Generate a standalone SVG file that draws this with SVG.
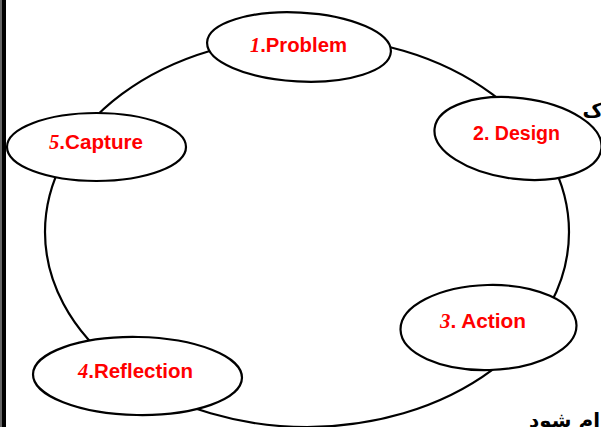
<svg xmlns="http://www.w3.org/2000/svg" width="601" height="427" viewBox="0 0 601 427">
<style>
.node{fill:#fff;stroke:#000;stroke-width:2.2}
.lbl{font-family:"Liberation Sans",Arial,sans-serif;font-weight:bold;font-size:20px;fill:#ff0000}
.num{font-family:"Liberation Serif","Times New Roman",serif;font-style:italic;font-weight:bold}
.fa{font-family:"DejaVu Sans",sans-serif;font-size:20px;font-weight:bold;fill:#000}
</style>
<rect x="0" y="0" width="601" height="427" fill="#fff"/>
<rect x="0" y="0" width="1.7" height="427" fill="#666"/>
<rect x="1.7" y="0" width="4.3" height="427" fill="#000"/>
<text class="fa" x="603" y="117" text-anchor="end">ک</text>
<text class="fa" x="600" y="427" text-anchor="end">ام شود</text>
<g id="connectors">
<ellipse cx="307" cy="232" rx="262" ry="195" fill="none" stroke="#000" stroke-width="2.2"/>
</g>
<g id="n1">
<ellipse class="node" cx="299" cy="47" rx="92" ry="34.5" transform="rotate(3 299 47)"/>
<text class="lbl" x="250" y="52" textLength="97" lengthAdjust="spacingAndGlyphs"><tspan class="num">1</tspan>.Problem</text>
</g>
<g id="n2">
<ellipse class="node" cx="518" cy="138.5" rx="84" ry="40.5" transform="rotate(7 518 138.5)"/>
<text class="lbl" x="473" y="140" textLength="87" lengthAdjust="spacingAndGlyphs">2. Design</text>
</g>
<g id="n3">
<ellipse class="node" cx="488.5" cy="327.5" rx="88" ry="42.5" transform="rotate(-1.5 488.5 327.5)"/>
<text class="lbl" x="440" y="328" textLength="86" lengthAdjust="spacingAndGlyphs"><tspan class="num">3</tspan>. Action</text>
</g>
<g id="n4">
<ellipse class="node" cx="137.5" cy="376" rx="104.5" ry="39" transform="rotate(1 137.5 376)"/>
<text class="lbl" x="78" y="378" textLength="115" lengthAdjust="spacingAndGlyphs"><tspan class="num">4</tspan>.Reflection</text>
</g>
<g id="n5">
<ellipse class="node" cx="96.5" cy="147" rx="89.5" ry="34"/>
<text class="lbl" x="49" y="149" textLength="94" lengthAdjust="spacingAndGlyphs"><tspan class="num">5</tspan>.Capture</text>
</g>
</svg>
